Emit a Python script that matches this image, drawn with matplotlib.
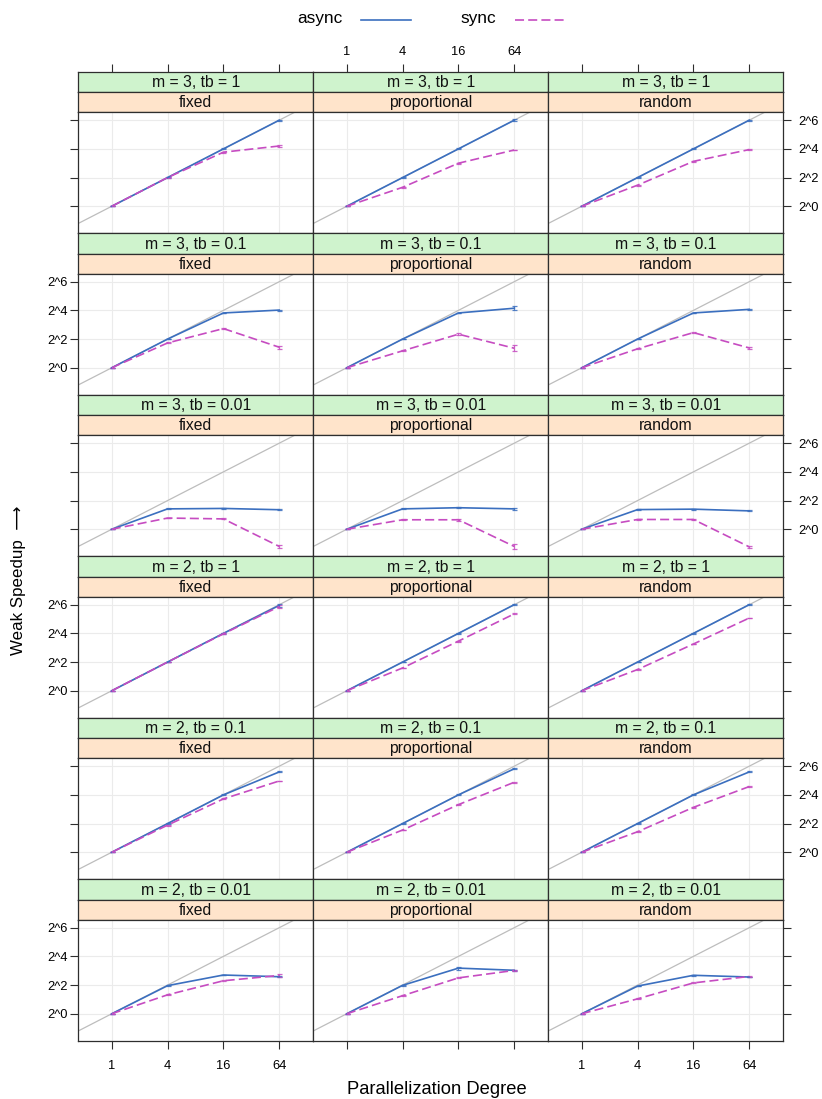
import numpy as np
import matplotlib
matplotlib.use("Agg")
import matplotlib.pyplot as plt
from matplotlib.lines import Line2D
from matplotlib.ticker import NullLocator

plt.rcParams['font.family'] = ['Liberation Sans', 'DejaVu Sans']
plt.rcParams['lines.scale_dashes'] = False

# ---------------- data ----------------
degrees = [1, 4, 16, 64]
schemes = ["fixed", "proportional", "random"]
row_labels = ["m = 3, tb = 1", "m = 3, tb = 0.1", "m = 3, tb = 0.01",
              "m = 2, tb = 1", "m = 2, tb = 0.1", "m = 2, tb = 0.01"]
ytick_vals = [1, 4, 16, 64]
ytick_labels = ["2^0", "2^2", "2^4", "2^6"]
xtick_labels = ["1", "4", "16", "64"]

# log2 of weak speedup, one row per panel (row-major: 6 rows x 3 schemes)
async_log2 = [
    [0, 2.00, 4.00, 6.00], [0, 2.00, 4.00, 6.00], [0, 2.00, 4.00, 6.00],
    [0, 2.00, 3.82, 4.02], [0, 2.00, 3.82, 4.15], [0, 2.00, 3.82, 4.07],
    [0, 1.42, 1.45, 1.36], [0, 1.42, 1.50, 1.42], [0, 1.37, 1.40, 1.28],
    [0, 2.00, 4.00, 5.95], [0, 2.00, 4.00, 6.00], [0, 2.00, 4.00, 6.00],
    [0, 2.00, 4.00, 5.60], [0, 2.00, 4.00, 5.82], [0, 2.00, 4.00, 5.60],
    [0, 1.96, 2.70, 2.58], [0, 1.98, 3.18, 3.03], [0, 1.93, 2.68, 2.56],
]
sync_log2 = [
    [0, 2.00, 3.77, 4.20], [0, 1.32, 3.00, 3.92], [0, 1.47, 3.13, 3.95],
    [0, 1.73, 2.73, 1.43], [0, 1.18, 2.34, 1.36], [0, 1.32, 2.45, 1.38],
    [0, 0.78, 0.72, -1.20], [0, 0.66, 0.66, -1.20], [0, 0.68, 0.68, -1.23],
    [0, 2.00, 3.97, 5.87], [0, 1.59, 3.46, 5.36], [0, 1.48, 3.26, 5.07],
    [0, 1.89, 3.72, 4.97], [0, 1.55, 3.32, 4.88], [0, 1.43, 3.13, 4.58],
    [0, 1.32, 2.30, 2.67], [0, 1.26, 2.50, 3.02], [0, 1.04, 2.15, 2.60],
]
# half-width of error bars (log2 units)
async_err = [
    [0, 0.03, 0.03, 0.03], [0, 0.03, 0.03, 0.05], [0, 0.03, 0.03, 0.03],
    [0, 0.03, 0.03, 0.03], [0, 0.03, 0.03, 0.12], [0, 0.03, 0.03, 0.03],
    [0, 0.03, 0.03, 0.03], [0, 0.03, 0.05, 0.08], [0, 0.03, 0.03, 0.03],
    [0, 0.03, 0.03, 0.08], [0, 0.03, 0.03, 0.03], [0, 0.03, 0.03, 0.03],
    [0, 0.03, 0.03, 0.03], [0, 0.03, 0.03, 0.03], [0, 0.03, 0.03, 0.03],
    [0, 0.03, 0.03, 0.03], [0, 0.03, 0.10, 0.03], [0, 0.03, 0.03, 0.03],
]
sync_err = [
    [0, 0.03, 0.03, 0.07], [0, 0.03, 0.03, 0.03], [0, 0.03, 0.03, 0.03],
    [0, 0.03, 0.03, 0.10], [0, 0.03, 0.08, 0.20], [0, 0.03, 0.03, 0.07],
    [0, 0.03, 0.03, 0.10], [0, 0.03, 0.08, 0.20], [0, 0.03, 0.03, 0.08],
    [0, 0.03, 0.03, 0.08], [0, 0.03, 0.03, 0.03], [0, 0.03, 0.03, 0.03],
    [0, 0.03, 0.03, 0.03], [0, 0.03, 0.03, 0.03], [0, 0.03, 0.03, 0.03],
    [0, 0.03, 0.03, 0.08], [0, 0.03, 0.03, 0.03], [0, 0.03, 0.03, 0.03],
]

# ---------------- style ----------------
C_ASYNC = "#3b6fbf"
C_SYNC = "#c64cc1"
C_GREEN = "#cff3cd"
C_ORANGE = "#ffe4cb"
C_FRAME = "#2e2e2e"
C_GRID = "#ebebeb"
C_DIAG = "#bdbdbd"
DASH = (0, (6.5, 3.0))

W, H = 822, 1099
fig = plt.figure(figsize=(W / 100, H / 100), dpi=100)


def rect(x0, y0, w, h):
    return [x0 / W, 1 - (y0 + h) / H, w / W, h / H]


col_x = [78.3, 313.3, 548.3]
col_w = 235.0
row_top0 = 71.7
row_pitch = 161.5
g_h, o_h, p_h = 20.6, 20.0, 120.9

XLIM = (2 ** -1.2, 2 ** 7.22)
YLIM = (2 ** -1.88, 2 ** 6.55)
TICKLEN = 5.6
TICK_FS = 9.3
STRIP_FS = 11.3


def style_frame(ax):
    for s in ax.spines.values():
        s.set_color(C_FRAME)
        s.set_linewidth(0.9)


for r in range(6):
    top = row_top0 + r * row_pitch
    for c in range(3):
        k = r * 3 + c
        x0 = col_x[c]
        # green strip
        sg = fig.add_axes(rect(x0, top, col_w, g_h))
        sg.set_facecolor(C_GREEN)
        sg.set_yticks([])
        sg.set_xscale('log', base=2)
        sg.set_xlim(*XLIM)
        sg.xaxis.set_minor_locator(NullLocator())
        if r == 0:
            sg.set_xticks(degrees)
            sg.set_xticklabels(xtick_labels)
            sg.tick_params(axis='x', which='major', top=True, bottom=False,
                           labeltop=(c == 1), labelbottom=False,
                           length=TICKLEN, direction='out', color=C_FRAME,
                           labelsize=TICK_FS, pad=4)
        else:
            sg.set_xticks([])
        sg.text(0.5, 0.47, row_labels[r], transform=sg.transAxes,
                ha='center', va='center', fontsize=STRIP_FS, color='#111111')
        style_frame(sg)
        # orange strip
        so = fig.add_axes(rect(x0, top + g_h, col_w, o_h))
        so.set_facecolor(C_ORANGE)
        so.set_xticks([])
        so.set_yticks([])
        so.text(0.5, 0.47, schemes[c], transform=so.transAxes,
                ha='center', va='center', fontsize=STRIP_FS, color='#111111')
        style_frame(so)
        # panel
        ax = fig.add_axes(rect(x0, top + g_h + o_h, col_w, p_h))
        ax.set_xscale('log', base=2)
        ax.set_yscale('log', base=2)
        ax.set_xlim(*XLIM)
        ax.set_ylim(*YLIM)
        ax.xaxis.set_minor_locator(NullLocator())
        ax.yaxis.set_minor_locator(NullLocator())
        ax.set_xticks(degrees)
        ax.set_yticks(ytick_vals)
        ax.set_xticklabels(xtick_labels)
        ax.set_yticklabels(ytick_labels)
        ax.set_axisbelow(True)
        ax.grid(True, color=C_GRID, lw=0.8)
        ax.tick_params(axis='x', which='major', bottom=(r == 5), top=False,
                       labelbottom=(r == 5 and c != 1), labeltop=False,
                       length=TICKLEN, direction='out', color=C_FRAME,
                       labelsize=TICK_FS, pad=8)
        ax.tick_params(axis='y', which='major', left=(c == 0), right=(c == 2),
                       labelleft=(c == 0 and r % 2 == 1),
                       labelright=(c == 2 and r % 2 == 0),
                       length=TICKLEN, direction='out', color=C_FRAME,
                       labelsize=TICK_FS)
        if c == 0:
            ax.tick_params(axis='y', pad=2)
        else:
            ax.tick_params(axis='y', pad=5)
        # reference diagonal y = x
        ax.plot(XLIM, XLIM, color=C_DIAG, lw=0.9, zorder=2)
        # series
        x = np.array(degrees, dtype=float)
        for vals, errs, col, ls in ((async_log2[k], async_err[k], C_ASYNC, '-'),
                                    (sync_log2[k], sync_err[k], C_SYNC, DASH)):
            v = np.array(vals, dtype=float)
            e = np.array(errs, dtype=float)
            y = np.exp2(v)
            lo = y - np.exp2(v - e)
            hi = np.exp2(v + e) - y
            ax.errorbar(x, y, yerr=[lo, hi], fmt='none', ecolor=col,
                        elinewidth=0.9, capsize=1.8, capthick=0.9,
                        alpha=0.85, zorder=3)
            ax.plot(x, y, color=col, lw=1.2, linestyle=ls, zorder=4)
        style_frame(ax)

# legend
fig.text(297 / W, 1 - 19 / H, "async", fontsize=12.4, ha='left', va='center')
fig.add_artist(Line2D([361 / W, 411 / W], [1 - 20 / H, 1 - 20 / H],
                      color=C_ASYNC, lw=1.2))
fig.text(460 / W, 1 - 19 / H, "sync", fontsize=12.4, ha='left', va='center')
fig.add_artist(Line2D([515 / W, 565 / W], [1 - 20 / H, 1 - 20 / H],
                      color=C_SYNC, lw=1.2, linestyle=DASH))

# axis labels
fig.text(437 / W, 1 - 1089 / H, "Parallelization Degree", fontsize=13.2,
         ha='center', va='center')
fig.text(18 / W, 1 - 580 / H, "Weak Speedup  \u27f6", fontsize=12.2,
         ha='center', va='center', rotation=90)

fig.savefig("out.png", dpi=100)
